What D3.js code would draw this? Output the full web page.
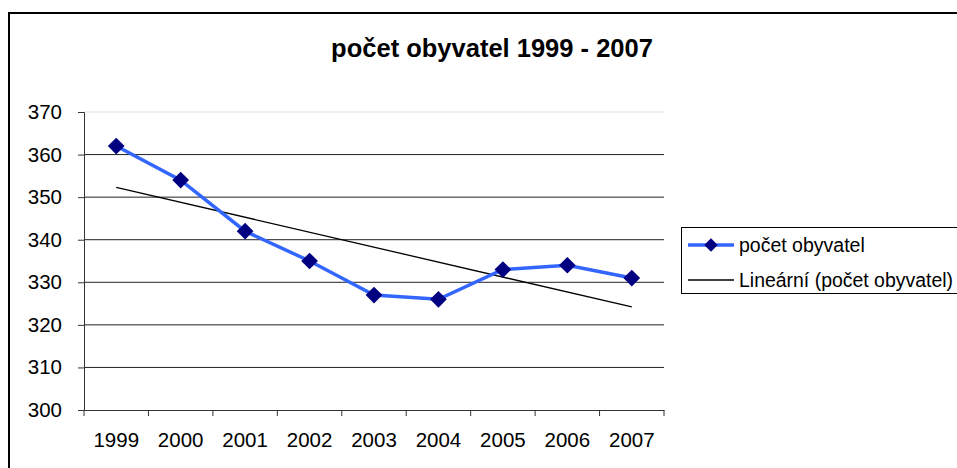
<!doctype html>
<html>
<head>
<meta charset="utf-8">
<title>počet obyvatel 1999 - 2007</title>
<script src="https://d3js.org/d3.v7.min.js"></script>
<style>
    body { margin: 0; background: #fff; }
    text { font-family: Arial, "Liberation Sans", sans-serif; fill: #000; }
</style>
</head>
<body>
<svg width="957" height="468"></svg>
<script>
    // data
    let years = ["1999", "2000", "2001", "2002", "2003", "2004", "2005", "2006", "2007"];
    let population = [362, 354, 342, 335, 327, 326, 333, 334, 331];
    // linear trend (Excel "Lineární"), values at first and last year
    let trendYears = ["1999", "2007"];
    let trendValues = [352.3, 324.2];
    let yTicks = [300, 310, 320, 330, 340, 350, 360, 370];

    let svg = d3.select("svg");

    // outer chart border
    svg.append("rect")
        .attr("x", 9).attr("y", 13)
        .attr("width", 970).attr("height", 480)
        .attr("fill", "none")
        .attr("stroke", "#000")
        .attr("stroke-width", 2);

    svg.append("text")
        .attr("x", 492).attr("y", 57)
        .attr("text-anchor", "middle")
        .style("font-size", "25.5px")
        .style("font-weight", "bold")
        .text("počet obyvatel 1999 - 2007");

    let plotL = 84, plotR = 664, plotT = 112, plotB = 410;

    let x = d3.scaleBand().domain(years).range([plotL, plotR]);
    let y = d3.scaleLinear().domain([300, 370]).range([plotB, plotT]);

    // gridlines
    svg.append("g")
        .selectAll("line")
        .data(yTicks.filter(d => d > 300))
        .enter()
        .append("line")
        .attr("x1", plotL).attr("x2", plotR)
        .attr("y1", d => y(d)).attr("y2", d => y(d))
        .attr("stroke", d => d === 370 ? "#ddd" : "#222")
        .attr("stroke-width", 1);

    // y axis
    let yAxis = svg.append("g")
        .attr("transform", "translate(" + plotL + ",0)")
        .call(d3.axisLeft(y).tickValues(yTicks).tickSize(6).tickPadding(16));
    yAxis.select(".domain").attr("stroke", "#333");
    yAxis.selectAll(".tick line").attr("stroke", "#333");
    yAxis.selectAll("text")
        .style("font-size", "20.5px")
        .style("font-family", "Arial, 'Liberation Sans', sans-serif")
        .attr("fill", "#000");

    // x axis, ticks between categories
    let xAxis = svg.append("g")
        .attr("transform", "translate(0," + plotB + ")")
        .call(d3.axisBottom(x).tickSize(0).tickPadding(22));
    xAxis.select(".domain").attr("stroke", "#333");
    xAxis.selectAll("text")
        .style("font-size", "20.5px")
        .style("font-family", "Arial, 'Liberation Sans', sans-serif")
        .attr("fill", "#000");
    xAxis.selectAll(".boundary")
        .data(years.concat(["end"]))
        .enter()
        .append("line")
        .attr("class", "boundary")
        .attr("x1", (d, i) => plotL + i * x.step())
        .attr("x2", (d, i) => plotL + i * x.step())
        .attr("y1", 0).attr("y2", 6)
        .attr("stroke", "#333");

    let cx = d => x(d) + x.bandwidth() / 2;

    // trend line
    svg.append("line")
        .attr("x1", cx(trendYears[0])).attr("y1", y(trendValues[0]))
        .attr("x2", cx(trendYears[1])).attr("y2", y(trendValues[1]))
        .attr("stroke", "#000")
        .attr("stroke-width", 1.3);

    // data line
    let line = d3.line()
        .x((d, i) => cx(years[i]))
        .y(d => y(d));
    svg.append("path")
        .datum(population)
        .attr("d", line)
        .attr("fill", "none")
        .attr("stroke", "#3366ff")
        .attr("stroke-width", 3.5);

    let diamond = d3.symbol().type(d3.symbolSquare).size(140);
    svg.append("g")
        .selectAll("path")
        .data(population)
        .enter()
        .append("path")
        .attr("d", diamond)
        .attr("transform", (d, i) => "translate(" + cx(years[i]) + "," + y(d) + ") rotate(45)")
        .attr("fill", "#000080");

    // legend
    let lg = svg.append("g");
    lg.append("rect")
        .attr("x", 681.5).attr("y", 227.5)
        .attr("width", 300).attr("height", 66)
        .attr("fill", "#fff")
        .attr("stroke", "#000");
    lg.append("line")
        .attr("x1", 688).attr("x2", 734)
        .attr("y1", 245).attr("y2", 245)
        .attr("stroke", "#3366ff").attr("stroke-width", 3.5);
    lg.append("path")
        .attr("d", d3.symbol().type(d3.symbolSquare).size(90))
        .attr("transform", "translate(711,245) rotate(45)")
        .attr("fill", "#000080");
    lg.append("text")
        .attr("x", 739).attr("y", 252)
        .style("font-size", "19.5px")
        .text("počet obyvatel");
    lg.append("line")
        .attr("x1", 688).attr("x2", 734)
        .attr("y1", 280).attr("y2", 280)
        .attr("stroke", "#000").attr("stroke-width", 1.3);
    lg.append("text")
        .attr("x", 739).attr("y", 287)
        .attr("textLength", 214)
        .attr("lengthAdjust", "spacingAndGlyphs")
        .style("font-size", "19.5px")
        .text("Lineární (počet obyvatel)");
</script>
</body>
</html>
